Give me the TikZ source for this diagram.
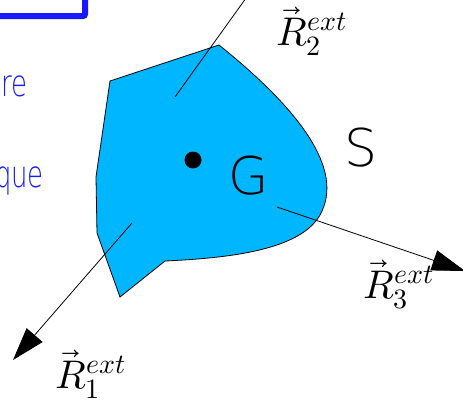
\documentclass[tikz,border=0pt]{standalone}
\usepackage{unicode-math}
\usetikzlibrary{arrows.meta}
\newfontfamily\thinfont{DejaVu Sans ExtraLight}
\newfontfamily\handfont[FakeStretch=0.7]{DejaVu Sans ExtraLight}
\definecolor{fillblue}{RGB}{0,183,255}
\definecolor{txtblue}{RGB}{25,25,255}
\tikzset{
  force/.style={line width=0.8pt, -{Triangle[length=33pt,width=21pt]}},
  handtext/.style={anchor=base east, inner sep=0pt, text=txtblue, font=\handfont\fontsize{37}{37}\selectfont},
  bigletter/.style={inner sep=0pt, font=\thinfont\fontsize{52}{52}\selectfont},
  rlabel/.style={anchor=base west, inner sep=0pt, font=\fontsize{40}{40}\selectfont}
}
\begin{document}
\begin{tikzpicture}[x=1pt,y=-1pt]
\useasboundingbox (0,0) rectangle (463,399);
\clip (0,0) rectangle (463,399);
% blue frame corner
\draw[txtblue, line width=6pt, rounded corners=2pt] (-20,16) -- (85,16) -- (85,-20);
% blue texts
\node[handtext] (t1) at (28,96) {re};
\node[handtext] (t2) at (44,187) {que};
% solid body
\draw[fill=fillblue, line width=0.8pt] (110,81) -- (219,45)
  .. controls (300,110) and (345,170) .. (320,215)
  .. controls (300,250) and (230,258) .. (165,261)
  -- (120,297) -- (97,233) -- (96,177) -- cycle;
% point and letters
\node[circle, fill=black, minimum size=17pt, inner sep=0pt] (dot) at (193,160) {};
\node[bigletter] (G) at (249,176) {G};
\node[bigletter] (S) at (361,148) {S};
% forces
\coordinate (r1s) at (132,223);
\coordinate (r1e) at (13,360);
\draw[force] (r1s) -- (r1e);
\coordinate (r2s) at (175,97);
\coordinate (r2e) at (259,-20);
\draw[line width=0.8pt] (r2s) -- (r2e);
\coordinate (r3s) at (277,207);
\coordinate (r3e) at (465,271);
\draw[force] (r3s) -- (r3e);
% labels
\node[rlabel] (L1) at (55,388) {$\vec{R}_1^{ext}$};
\node[rlabel] (L2) at (276,45) {$\vec{R}_2^{ext}$};
\node[rlabel] (L3) at (363,298) {$\vec{R}_3^{ext}$};
\end{tikzpicture}
\end{document}
